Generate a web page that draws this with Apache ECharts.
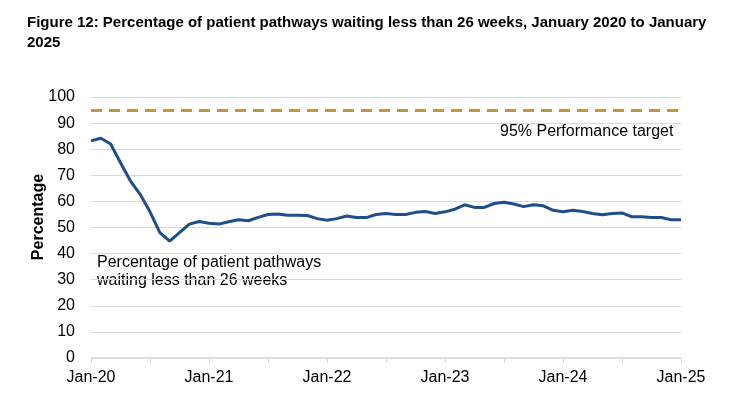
<!DOCTYPE html>
<html>
<head>
<meta charset="utf-8">
<script src="https://cdn.jsdelivr.net/npm/echarts@6/dist/echarts.min.js"></script>
<style>
html,body{margin:0;padding:0;background:#fff;}
#c{width:730px;height:411px;}
</style>
</head>
<body>
<div id="c"></div>
<script>
const categories = [
 "Jan-20","Feb-20","Mar-20","Apr-20","May-20","Jun-20","Jul-20","Aug-20","Sep-20","Oct-20","Nov-20","Dec-20",
 "Jan-21","Feb-21","Mar-21","Apr-21","May-21","Jun-21","Jul-21","Aug-21","Sep-21","Oct-21","Nov-21","Dec-21",
 "Jan-22","Feb-22","Mar-22","Apr-22","May-22","Jun-22","Jul-22","Aug-22","Sep-22","Oct-22","Nov-22","Dec-22",
 "Jan-23","Feb-23","Mar-23","Apr-23","May-23","Jun-23","Jul-23","Aug-23","Sep-23","Oct-23","Nov-23","Dec-23",
 "Jan-24","Feb-24","Mar-24","Apr-24","May-24","Jun-24","Jul-24","Aug-24","Sep-24","Oct-24","Nov-24","Dec-24",
 "Jan-25"
];
const pctUnder26Weeks = [
 83.2,84.2,82.0,74.8,67.9,62.7,56.0,48.0,44.8,48.0,51.3,52.3,
 51.6,51.3,52.2,53.0,52.6,53.9,55.0,55.2,54.7,54.7,54.6,53.4,
 52.8,53.4,54.4,53.8,53.8,55.0,55.4,55.0,55.0,55.8,56.1,55.4,
 56.0,57.0,58.7,57.7,57.7,59.2,59.7,59.0,58.0,58.7,58.3,56.6,
 56.0,56.6,56.1,55.4,54.9,55.4,55.6,54.1,54.1,53.8,53.8,53.0,
 53.0
];
const targetValue = 95;
const yTicks = [0,10,20,30,40,50,60,70,80,90,100];

const FONT = '"Liberation Sans", Arial, sans-serif';
const chart = echarts.init(document.getElementById('c'));
chart.setOption({
  animation: false,
  textStyle: { fontFamily: FONT },
  title: {
    text: 'Figure 12: Percentage of patient pathways waiting less than 26 weeks, January 2020 to January\n2025',
    left: 22, top: 8,
    textStyle: { fontFamily: FONT, fontWeight: 'bold', fontSize: 15, color: '#000', lineHeight: 20 }
  },
  grid: { left: 91, right: 49, top: 97, bottom: 53, containLabel: false },
  xAxis: {
    type: 'category',
    data: categories,
    boundaryGap: false,
    axisLine: { lineStyle: { color: '#d9d9d9', width: 1.5 } },
    axisTick: { show: true, interval: 5, length: 5, lineStyle: { color: '#d9d9d9' } },
    axisLabel: { interval: 11, color: '#000', fontSize: 16, margin: 12, fontFamily: FONT },
    splitLine: { show: false }
  },
  yAxis: {
    type: 'value',
    min: yTicks[0], max: yTicks[yTicks.length - 1], interval: 10,
    axisLine: { show: false },
    axisTick: { show: false },
    axisLabel: { color: '#000', fontSize: 16, margin: 16, fontFamily: FONT },
    splitLine: { lineStyle: { color: '#d9d9d9', width: 1.2 } }
  },
  series: [{
    name: 'Percentage of patient pathways waiting less than 26 weeks',
    type: 'line',
    data: pctUnder26Weeks,
    symbol: 'none',
    lineStyle: { color: '#1f4e8c', width: 3 },
    markLine: {
      silent: true,
      symbol: 'none',
      label: { show: false },
      lineStyle: { color: '#c9943a', width: 3, type: [11, 7] },
      data: [{ yAxis: targetValue }]
    }
  }],
  graphic: [
    { type: 'text', x: 39, y: 217, rotation: Math.PI / 2,
      style: { text: 'Percentage', fill: '#000', font: 'bold 16px ' + FONT, textAlign: 'center', textVerticalAlign: 'middle' } },
    { type: 'text', left: 500, top: 124,
      style: { text: '95% Performance target', fill: '#000', font: '16px ' + FONT } },
    { type: 'text', left: 97, top: 254,
      style: { text: 'Percentage of patient pathways\nwaiting less than 26 weeks', fill: '#000', font: '16px ' + FONT, lineHeight: 18 } }
  ]
});
</script>
</body>
</html>
